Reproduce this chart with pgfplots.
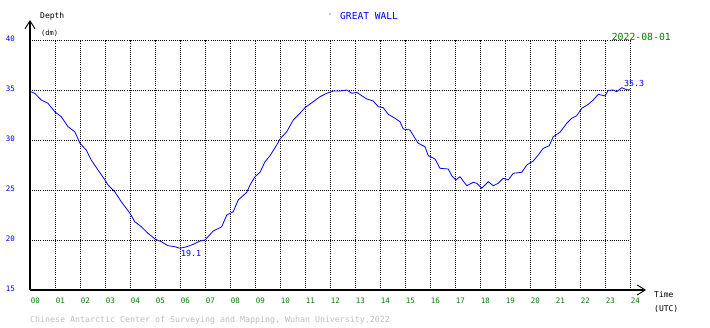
\documentclass[border=0pt]{standalone}
\usepackage{fontspec}
\setmainfont{DejaVu Sans Mono}
\usepackage{pgfplots}
\pgfplotsset{compat=1.18}
\usetikzlibrary{arrows.meta}
\definecolor{cblue}{RGB}{0,0,255}
\definecolor{cgreen}{RGB}{0,128,0}
\definecolor{cgray}{RGB}{190,190,190}
\newcommand{\fs}[1]{\fontsize{#1}{#1}\selectfont}
\begin{document}
\begin{tikzpicture}
\path[use as bounding box] (-30pt,-38pt) rectangle (680pt,290pt);
\begin{axis}[
  at={(0pt,0pt)}, anchor=south west,
  scale only axis, width=600pt, height=250pt,
  xmin=0, xmax=24, ymin=15, ymax=40,
  xtick={0,1,...,24},
  xticklabels={00,01,02,03,04,05,06,07,08,09,10,11,12,13,14,15,16,17,18,19,20,21,22,23,24},
  ytick={15,20,25,30,35,40},
  yticklabels={15,20,25,30,35,40},
  grid=major,
  major grid style={black, line width=0.8pt, dash pattern=on 0.8pt off 1.3pt},
  axis line style={draw=none},
  major tick length=0pt,
  xticklabel style={anchor=north west, inner sep=0pt, xshift=0.6pt, yshift=-8pt, text=cgreen, font=\fs{7.5}},
  yticklabel style={anchor=east, inner sep=0pt, xshift=-15pt, yshift=1.5pt, text=cblue, font=\fs{7.5}},
  clip=false,
]
\addplot[cblue, line width=0.8pt] coordinates {
(0,34.85) (0.19,34.67) (0.45,34.0) (0.72,33.67) (1.0,32.8) (1.25,32.33) (1.52,31.33) (1.79,30.83)
(2.0,29.67) (2.25,29.0) (2.45,28.0) (2.72,27.0) (3.0,26.0) (3.12,25.5) (3.39,24.83) (3.65,23.83)
(4.0,22.67) (4.19,21.83) (4.45,21.33) (4.72,20.67) (5.0,20.1) (5.25,19.83) (5.52,19.43) (5.79,19.33)
(6.0,19.17) (6.27,19.33) (6.53,19.57) (6.8,19.9) (7.0,20.0) (7.33,20.9) (7.67,21.33) (7.87,22.5)
(8.13,22.83) (8.33,24.0) (8.67,24.77) (8.8,25.5) (9.0,26.33) (9.2,26.77) (9.4,27.83) (9.6,28.43)
(9.87,29.5) (10.0,30.1) (10.27,30.83) (10.53,32.0) (10.8,32.67) (11.0,33.23) (11.33,33.83) (11.6,34.33)
(11.87,34.67) (12.13,34.9) (12.4,34.9) (12.67,35.0) (12.87,34.67) (13.07,34.77) (13.27,34.43) (13.47,34.1)
(13.73,33.9) (13.93,33.33) (14.13,33.23) (14.33,32.57) (14.6,32.17) (14.8,31.83) (14.93,31.1) (15.2,31.0)
(15.4,30.17) (15.53,29.67) (15.8,29.33) (15.93,28.43) (16.2,28.1) (16.4,27.17) (16.73,27.1) (16.87,26.43)
(17.04,26.0) (17.2,26.33) (17.47,25.43) (17.73,25.77) (17.87,25.67) (18.07,25.17) (18.13,25.33) (18.33,25.83)
(18.53,25.43) (18.73,25.67) (18.93,26.17) (19.13,26.0) (19.33,26.67) (19.67,26.77) (19.87,27.5) (20.13,27.9)
(20.33,28.5) (20.53,29.17) (20.77,29.43) (20.93,30.33) (21.2,30.77) (21.47,31.67) (21.67,32.17) (21.87,32.43)
(22.07,33.17) (22.33,33.57) (22.53,34.0) (22.73,34.57) (23.0,34.4) (23.13,34.97) (23.33,35.0) (23.47,34.83)
(23.67,35.23) (23.87,35.03) (24.0,35.03)
};
\node[anchor=west, inner sep=0pt, text=cblue, font=\fs{8.3}] at (axis cs:6.04,18.7) {19.1};
\node[anchor=west, inner sep=0pt, text=cblue, font=\fs{8.3}] at (axis cs:23.76,35.7) {35.3};
\end{axis}
\draw[line width=1.2pt, -{Straight Barb[length=8pt,width=10pt,line width=0.9pt]}] (0pt,0pt) -- (0pt,270pt);
\draw[line width=1.2pt, -{Straight Barb[length=8pt,width=10pt,line width=0.9pt]}] (0pt,0pt) -- (616pt,0pt);
\node[anchor=west, inner sep=0pt, font=\fs{8}] at (10pt,274pt) {Depth};
\node[anchor=west, inner sep=0pt, font=\fs{7}] at (11pt,257pt) {(dm)};
\fill[cblue] (300pt,276pt) circle (0.7pt);
\node[anchor=west, inner sep=0pt, text=cblue, font=\fs{9.6}] at (310pt,274pt) {GREAT WALL};
\node[anchor=east, inner sep=0pt, text=cgreen, font=\fs{9.8}] at (641pt,253pt) {2022-08-01};
\node[anchor=west, inner sep=0pt, font=\fs{8}] at (624pt,-5pt) {Time};
\node[anchor=west, inner sep=0pt, font=\fs{8}] at (624pt,-19pt) {(UTC)};
\node[anchor=west, inner sep=0pt, text=cgray, font=\fs{8.3}] at (0pt,-30.7pt) {Chinese Antarctic Center of Surveying and Mapping, Wuhan University,2022};
\end{tikzpicture}
\end{document}
